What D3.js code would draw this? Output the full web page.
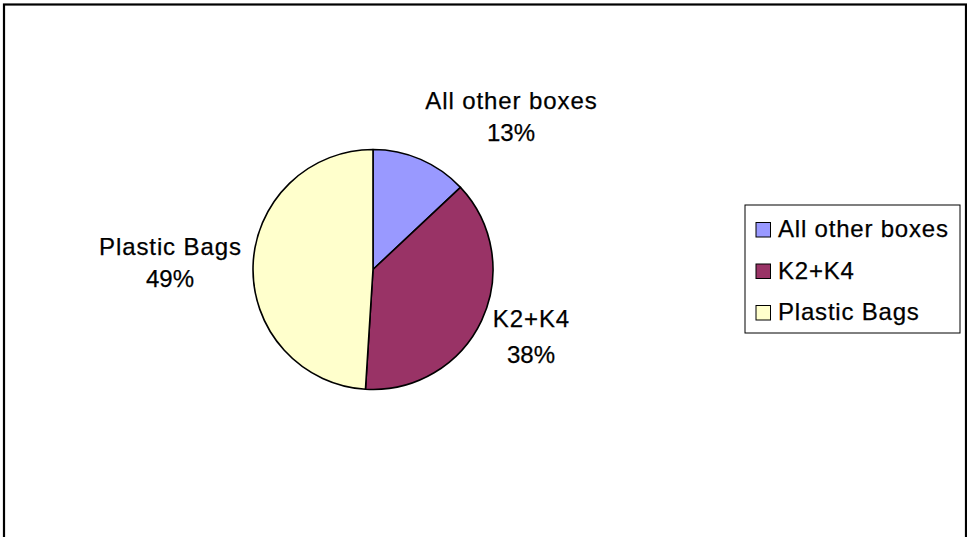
<!DOCTYPE html>
<html>
<head>
<meta charset="utf-8">
<script src="https://cdn.jsdelivr.net/npm/d3@7"></script>
<style>
  html, body { margin: 0; padding: 0; background: #fff; }
  svg { display: block; }
  text { font-family: "Liberation Sans", Arial, sans-serif; fill: #000; stroke: #000; stroke-width: 0.25px; }
</style>
</head>
<body>
<svg id="chart" width="967" height="537"></svg>
<script>
// Share of packaging by type (percent)
const categories = ["All other boxes", "K2+K4", "Plastic Bags"];
const shares = [13, 38, 49];
const sliceColors = ["#9999FF", "#993366", "#FFFFCC"];

const svg = d3.select("#chart");

// chart frame
svg.append("rect")
  .attr("x", 4).attr("y", 4.5)
  .attr("width", 962).attr("height", 600)
  .attr("fill", "#fff")
  .attr("stroke", "#000")
  .attr("stroke-width", 2.2);

const cx = 373, cy = 269.5, radius = 120;

const color = d3.scaleOrdinal().domain(categories).range(sliceColors);
const data = categories.map((c, i) => ({ name: c, value: shares[i] }));

const pie = d3.pie().value(d => d.value).sort(null);
const arcs = pie(data);
const arc = d3.arc().innerRadius(0).outerRadius(radius);

const g = svg.append("g").attr("transform", `translate(${cx},${cy})`);

g.selectAll("path.slice")
  .data(arcs)
  .enter().append("path")
  .attr("class", "slice")
  .attr("d", arc)
  .attr("fill", d => color(d.data.name))
  .attr("stroke", "#000")
  .attr("stroke-width", 1.6)
  .attr("stroke-linejoin", "round");

// data labels sit outside the rim, next to their slice
const labelPos = {
  "All other boxes": [511, 109, 32],
  "K2+K4": [531, 327, 36],
  "Plastic Bags": [170, 255, 32]
};

const fontSize = 24;

const labels = svg.selectAll("g.label")
  .data(arcs)
  .enter().append("g")
  .attr("class", "label")
  .attr("transform", d => `translate(${labelPos[d.data.name][0]},${labelPos[d.data.name][1]})`);

labels.append("text")
  .attr("text-anchor", "middle")
  .attr("font-size", fontSize)
  .attr("letter-spacing", 0.9)
  .attr("dx", 0.45)
  .text(d => d.data.name);

labels.append("text")
  .attr("text-anchor", "middle")
  .attr("font-size", fontSize)
  .attr("y", d => labelPos[d.data.name][2])
  .text(d => d3.format(".0%")(d.data.value / d3.sum(shares)));

// legend
const legendX = 745, legendY = 205, legendW = 215, legendH = 128;
svg.append("rect")
  .attr("x", legendX).attr("y", legendY)
  .attr("width", legendW).attr("height", legendH)
  .attr("fill", "#fff")
  .attr("stroke", "#000")
  .attr("stroke-width", 1);

const rowY = d3.scalePoint().domain(categories).range([237, 320]);

const rows = svg.selectAll("g.legend-row")
  .data(categories)
  .enter().append("g")
  .attr("class", "legend-row")
  .attr("transform", d => `translate(${legendX}, ${rowY(d)})`);

rows.append("rect")
  .attr("x", 11).attr("y", -14.5)
  .attr("width", 14.5).attr("height", 14.5)
  .attr("fill", d => color(d))
  .attr("stroke", "#000")
  .attr("stroke-width", 1);

rows.append("text")
  .attr("x", 33)
  .attr("y", 0)
  .attr("font-size", fontSize)
  .attr("letter-spacing", 0.8)
  .text(d => d);
</script>
</body>
</html>
